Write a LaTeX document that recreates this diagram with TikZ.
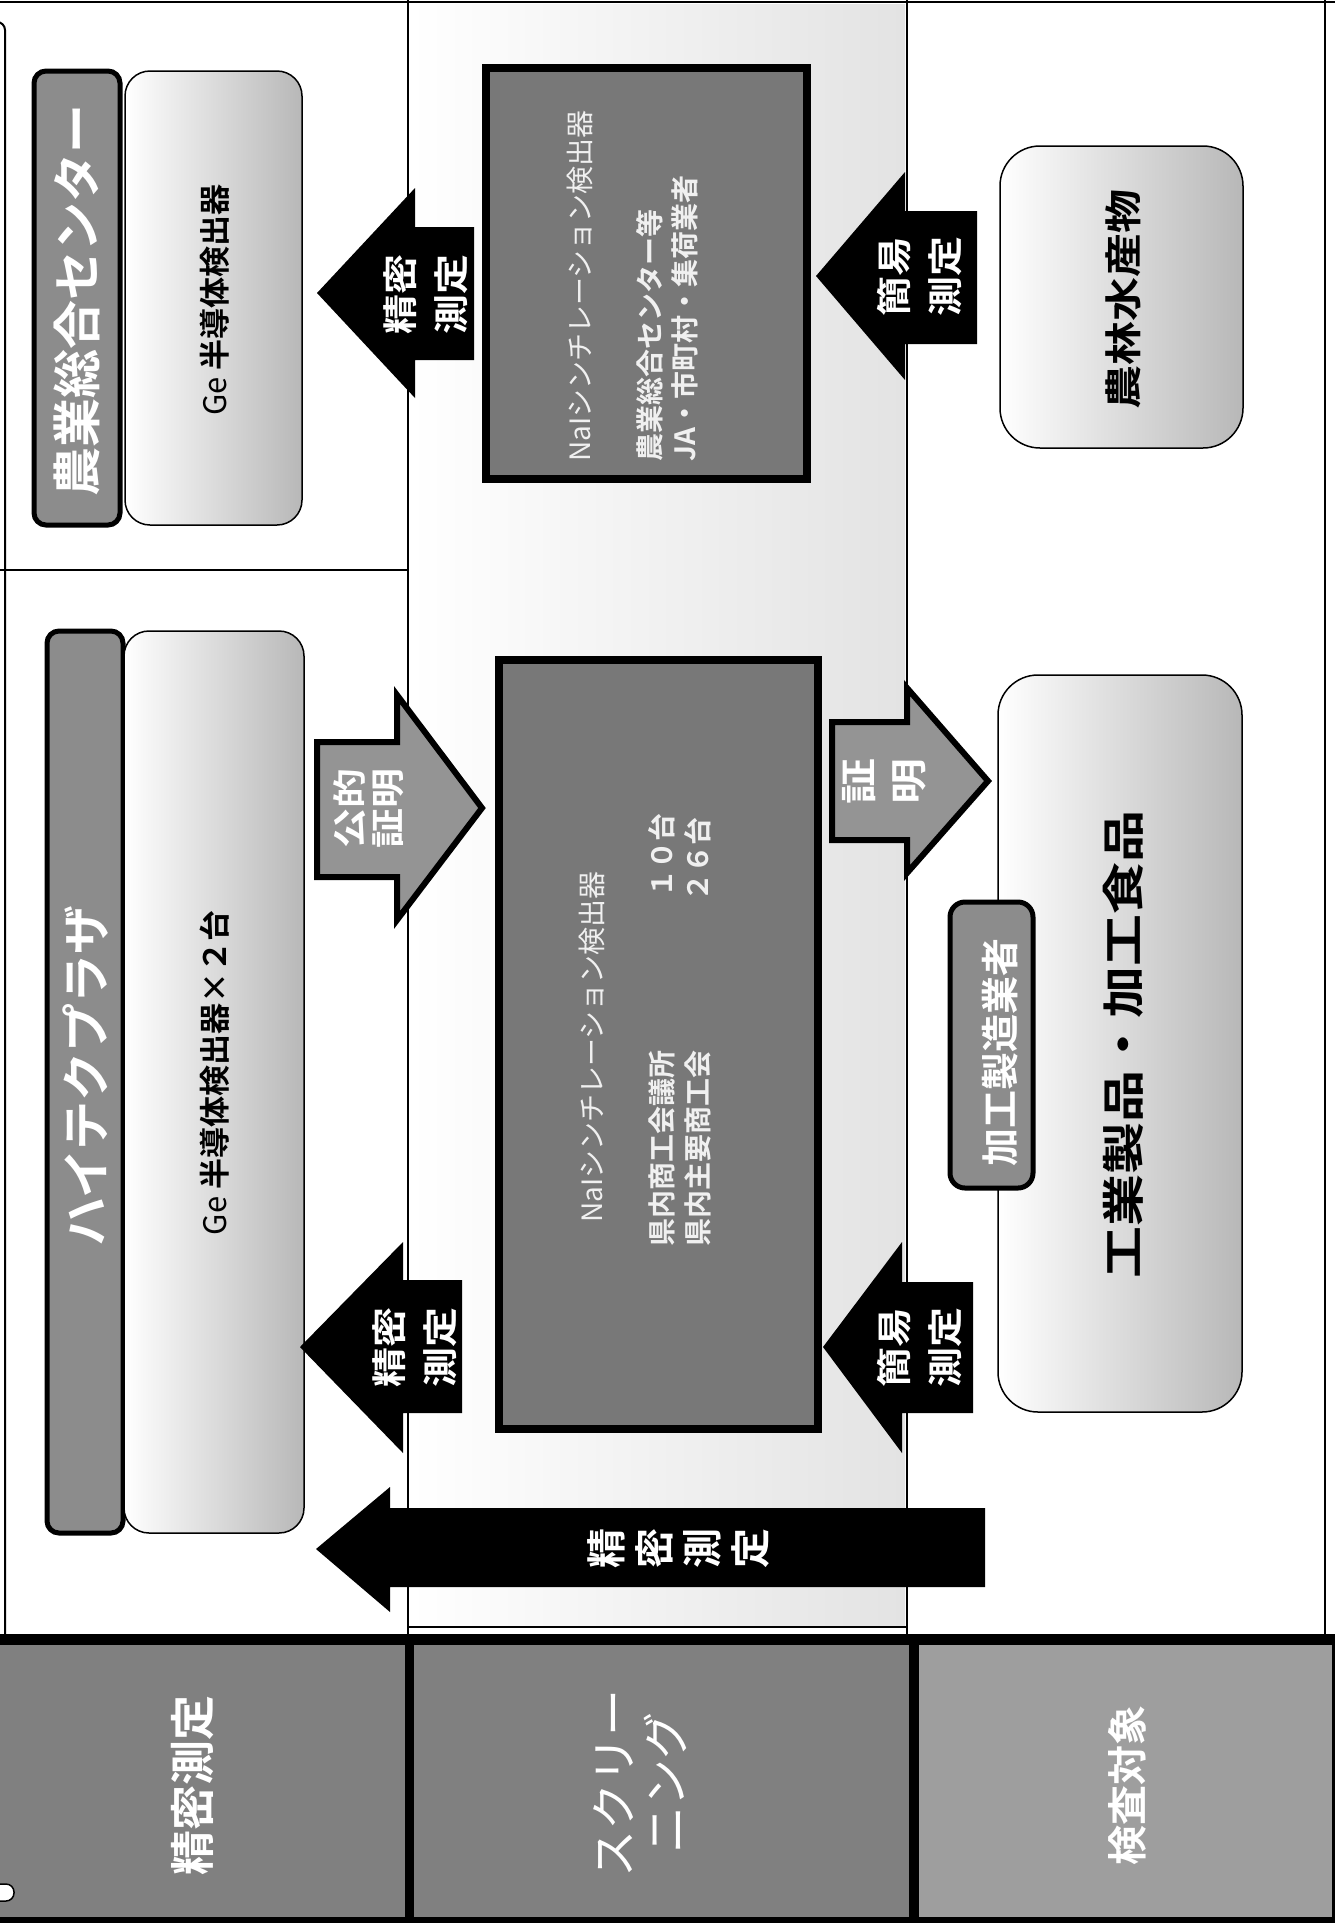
\documentclass[tikz,border=0pt]{standalone}
\usepackage{fontspec}
\setmainfont{Noto Sans CJK JP}[BoldFont={Noto Sans CJK JP Bold}]
\newcommand\fsz[2]{\fontsize{#1}{#2}\selectfont}
\definecolor{dkbox}{gray}{0.55}
\definecolor{naibox}{gray}{0.47}
\definecolor{rowbox}{gray}{0.50}
\definecolor{rowboxlt}{gray}{0.62}
\definecolor{lightend}{gray}{0.72}
\definecolor{arrgray}{gray}{0.58}
\definecolor{naitext}{gray}{0.94}
\begin{document}
\begin{tikzpicture}[x=1pt,y=-1pt,
  vt/.style={rotate=90, inner sep=0pt, align=center},
  lbl/.style={vt, text=white},
  naitxt/.style={vt, anchor=west, text=naitext},
  frameline/.style={line width=2.5pt},
  darkbox/.style={draw=black, line width=5pt, fill=dkbox, rounded corners=12pt, inner sep=0pt},
  naibx/.style={draw=black, line width=8pt, fill=naibox, inner sep=0pt},
  lightbox/.style={draw=black, line width=1.5pt, rounded corners=25pt, left color=white, right color=lightend, inner sep=0pt},
  bigbox/.style={lightbox, rounded corners=40pt},
  rowlbl/.style={fill=rowbox, inner sep=0pt},
  blackarrow/.style={fill=black},
  grayarrow/.style={fill=arrgray, draw=black, line width=6pt, line join=miter}
]
\useasboundingbox (0,0) rectangle (1335,1923);
\fill[white] (0,0) rectangle (1335,1923);

% screening column background
\shade[left color=white, right color=gray!22] (410,4) rectangle (905,1626);

% frame lines
\draw[frameline] (0,2) -- (1335,2);
\draw[frameline] (1325,0) -- (1325,1636);
\draw[line width=2pt, rounded corners=8pt] (-10,22) -- (5,22) -- (5,1636);
\draw[frameline] (408,0) -- (408,1636);
\draw[frameline] (907,0) -- (907,1636);
\draw[frameline] (0,570) -- (408,570);
\draw[frameline] (408,1627) -- (907,1627);

% bottom row labels
\fill[black] (0,1634) rectangle (1335,1923);
\node[rowlbl, minimum width=405pt, minimum height=272pt] (row1) at (202.5,1781) {};
\node[rowlbl, minimum width=495pt, minimum height=272pt] (row2) at (661.5,1781) {};
\node[rowlbl, fill=rowboxlt, minimum width=413pt, minimum height=272pt] (row3) at (1125.5,1781) {};
\node[lbl, font=\bfseries\fsz{45}{50}] (row1t) at (193,1785) {精密測定};
\node[lbl, font=\fsz{47}{52}] (row2t) at (640,1783) {スクリー\\ニング};
\node[lbl, font=\bfseries\fsz{40}{46}] (row3t) at (1127,1785) {検査対象};
\draw[fill=white, line width=1.5pt, rounded corners=8pt] (-10,1884) -- (14,1884) -- (14,1901) -- (-10,1901);

% precise measurement column
\node[darkbox, minimum width=86pt, minimum height=454pt] (nou) at (77,298) {};
\node[lightbox, minimum width=177pt, minimum height=454pt] (ge1) at (213.5,298) {};
\node[lbl, font=\bfseries\fsz{49}{55}] (nout) at (77,300) {農業総合センター};
\node[vt, font=\bfseries\fsz{31}{36}] (ge1t) at (215,300) {{\mdseries Ge} 半導体検出器};

\node[darkbox, minimum width=76pt, minimum height=902pt] (hi) at (85,1082) {};
\node[lightbox, minimum width=180pt, minimum height=902pt] (ge2) at (214,1082) {};
\node[lbl, font=\bfseries\fsz{49}{55}] (hit) at (86,1076) {ハイテクプラザ};
\node[vt, font=\bfseries\fsz{31}{36}] (ge2t) at (215,1073) {{\mdseries Ge} 半導体検出器×２台};

% screening boxes
\node[naibx, minimum width=321pt, minimum height=411pt] (nai1) at (646.5,273.5) {};
\node[naitxt, font=\fsz{28}{32}] (nai1a) at (580,462) {NaIシンチレーション検出器};
\node[naitxt, font=\bfseries\fsz{28}{32}] (nai1b) at (650,462) {農業総合センター等};
\node[naitxt, font=\bfseries\fsz{28}{32}] (nai1c) at (685,462) {JA・市町村・集荷業者};

\node[naibx, minimum width=319pt, minimum height=769pt] (nai2) at (658.5,1044.5) {};
\node[naitxt, font=\fsz{28}{32}] (nai2a) at (592,1223) {NaIシンチレーション検出器};
\node[naitxt, font=\bfseries\fsz{28}{32}] (nai2b) at (662,1247) {県内商工会議所};
\node[naitxt, anchor=east, font=\bfseries\fsz{28}{32}] (nai2c) at (662,813) {１０台};
\node[naitxt, font=\bfseries\fsz{28}{32}] (nai2d) at (698,1247) {県内主要商工会};
\node[naitxt, anchor=east, font=\bfseries\fsz{28}{32}] (nai2e) at (698,817) {２６台};

% targets
\node[bigbox, minimum width=243pt, minimum height=302pt] (nousan) at (1121.5,297) {};
\node[vt, yscale=0.85, font=\bfseries\fsz{44}{50}] (nousant) at (1123,299) {農林水産物};
\node[bigbox, minimum width=244pt, minimum height=737pt] (kogyo) at (1120,1043.5) {};
\node[vt, yscale=0.82, font=\bfseries\fsz{52}{58}] (kogyot) at (1123,1044) {工業製品・加工食品};
\node[darkbox, rounded corners=15pt, minimum width=83pt, minimum height=286pt] (kako) at (991.5,1045) {};
\node[lbl, font=\bfseries\fsz{38}{44}] (kakot) at (1000,1052) {加工製造業者};

% block arrows
\fill[blackarrow] (474,227) -- (415,227) -- (415,188) -- (317,293) -- (415,398) -- (415,360) -- (474,360) -- cycle;
\fill[blackarrow] (462,1280) -- (403,1280) -- (403,1242) -- (300,1347) -- (403,1453) -- (403,1413) -- (462,1413) -- cycle;
\fill[blackarrow] (985,1508) -- (390,1508) -- (390,1487) -- (316,1549) -- (390,1612) -- (390,1587) -- (985,1587) -- cycle;
\fill[blackarrow] (977,211) -- (905,211) -- (905,172) -- (816,276) -- (905,380) -- (905,344) -- (977,344) -- cycle;
\fill[blackarrow] (973,1282) -- (902,1282) -- (902,1242) -- (823,1347) -- (902,1453) -- (902,1413) -- (973,1413) -- cycle;
\filldraw[grayarrow] (317,742) -- (397,742) -- (397,695) -- (482,808) -- (397,920) -- (397,877) -- (317,877) -- cycle;
\filldraw[grayarrow] (832,722) -- (907,722) -- (907,688) -- (988,781) -- (907,873) -- (907,840) -- (832,840) -- cycle;

\node[lbl, yscale=0.88, font=\bfseries\fsz{40}{58}] (a1t) at (426,294) {精密\\測定};
\node[lbl, yscale=0.88, font=\bfseries\fsz{40}{58}] (a2t) at (415,1347) {精密\\測定};
\node[lbl, font=\bfseries\fsz{40}{48}] (a3t) at (678,1548) {精\\密\\測\\定};
\node[lbl, yscale=0.88, font=\bfseries\fsz{40}{58}] (a4t) at (920,276) {簡易\\測定};
\node[lbl, yscale=0.88, font=\bfseries\fsz{40}{58}] (a5t) at (920,1347) {簡易\\測定};
\node[lbl, yscale=0.85, font=\bfseries\fsz{40}{45}] (a6t) at (369,808) {公的\\証明};
\node[lbl, yscale=0.8, font=\bfseries\fsz{46}{62}] (a7t) at (884,781) {証\\明};
\end{tikzpicture}
\end{document}
